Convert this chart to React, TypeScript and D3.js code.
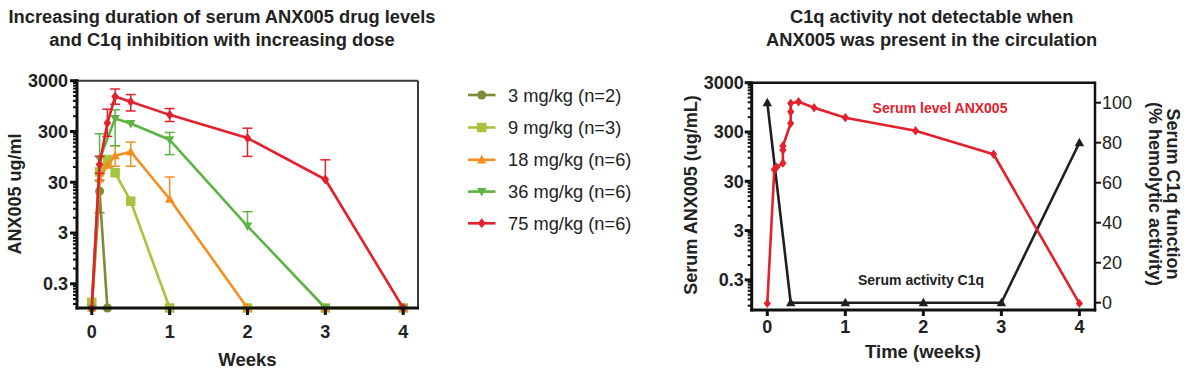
import React from "react";
import * as d3 from "d3";

const FONT = "'Liberation Sans', Arial, Helvetica, sans-serif";

// ---------- shared ticks ----------
const weekTicks = [0, 1, 2, 3, 4];
const logTicks = [0.3, 3, 30, 300, 3000];
const logTickLabels = ["0.3", "3", "30", "300", "3000"];
const logMinorBases = [0.03, 0.3, 3, 30, 300];
const pctTicks = [0, 20, 40, 60, 80, 100];

// ---------- left chart data ----------
const doseNames = ["3 mg/kg (n=2)", "9 mg/kg (n=3)", "18 mg/kg (n=6)", "36 mg/kg (n=6)", "75 mg/kg (n=6)"];
const doseColors = ["#7f8b35", "#a8c43c", "#f68e1f", "#5cb446", "#e3202b"];
const doseShapes = ["circle", "square", "triangle", "triangleDown", "diamond"];

const dose3Times = [0, 0.1, 0.2];
const dose3Values = [0.1, 20, 0.1];
const dose3Hi = [null, 33, null];
const dose3Lo = [null, 7.5, null];

const dose9Times = [0, 0.1, 0.2, 0.3, 0.5, 1, 2, 3, 4];
const dose9Values = [0.13, 48, 84, 46, 12.7, 0.1, 0.1, 0.1, 0.1];
const dose9Hi = [null, null, null, null, null, null, null, null, null];
const dose9Lo = [null, null, null, null, null, null, null, null, null];

const dose18Times = [0, 0.1, 0.2, 0.3, 0.5, 1, 2, 3, 4];
const dose18Values = [0.1, 35, 65, 100, 120, 14, 0.1, 0.1, 0.1];
const dose18Hi = [null, null, null, 157, 185, 38, null, null, null];
const dose18Lo = [null, null, null, 62, 62, null, null, null, null];

const dose36Times = [0, 0.1, 0.3, 0.5, 1, 2, 3, 4];
const dose36Values = [0.1, 86, 540, 430, 206, 4.1, 0.1, 0.1];
const dose36Hi = [null, 270, 800, null, 287, 7.9, null, null];
const dose36Lo = [null, null, 157, null, 105, null, null, null];

const dose75Times = [0, 0.1, 0.2, 0.3, 0.5, 1, 2, 3, 4];
const dose75Values = [0.1, 67, 440, 1460, 1160, 637, 222, 34, 0.1];
const dose75Hi = [null, 97, 824, 2060, 1600, 847, 348, 83, null];
const dose75Lo = [null, 45, 240, 1033, 760, 471, 97, null, null];

const doseTimes = [dose3Times, dose9Times, dose18Times, dose36Times, dose75Times];
const doseValues = [dose3Values, dose9Values, dose18Values, dose36Values, dose75Values];
const doseHi = [dose3Hi, dose9Hi, dose18Hi, dose36Hi, dose75Hi];
const doseLo = [dose3Lo, dose9Lo, dose18Lo, dose36Lo, dose75Lo];

// ---------- right chart data ----------
const serumTimes = [0, 0.09, 0.12, 0.2, 0.2, 0.2, 0.3, 0.3, 0.3, 0.4, 0.6, 1, 1.9, 2.9, 4];
const serumValues = [0.1, 52, 58, 70, 129, 156, 450, 774, 1146, 1235, 933, 585, 318, 106, 0.1];
const c1qTimes = [0, 0.3, 1, 2, 3, 4];
const c1qValues = [100, 0, 0, 0, 0, 80];

function markerPath(shape: string, s: number): string {
  const h = s / 2;
  switch (shape) {
    case "circle":
      return `M${-h},0A${h},${h} 0 1,0 ${h},0A${h},${h} 0 1,0 ${-h},0Z`;
    case "square":
      return `M${-h},${-h}H${h}V${h}H${-h}Z`;
    case "triangle":
      return `M0,${-h * 1.1}L${h * 1.05},${h * 0.8}L${-h * 1.05},${h * 0.8}Z`;
    case "triangleDown":
      return `M0,${h * 1.1}L${h * 1.05},${-h * 0.8}L${-h * 1.05},${-h * 0.8}Z`;
    case "diamond":
      return `M0,${-h * 1.1}L${h * 0.85},0L0,${h * 1.1}L${-h * 0.85},0Z`;
  }
  return "";
}

function minorTicks(lo: number, hi: number): number[] {
  const out: number[] = [];
  logMinorBases.forEach((b) => {
    for (let m = 2; m <= 9; m++) {
      const v = b * m;
      if (v >= lo && v <= hi) out.push(v);
    }
  });
  return out;
}

export default function App() {
  // left chart geometry
  const L = { x0: 77, x1: 418, y0: 80.7, y1: 308 };
  const lx = d3.scaleLinear().domain([-0.19, 4.19]).range([L.x0, L.x1]);
  const ly = d3.scaleLog().domain([0.1, 3000]).range([L.y1, L.y0]);

  // right chart geometry
  const R = { x0: 751.7, x1: 1095, y0: 82.7, y1: 310 };
  const rx = d3.scaleLinear().domain([-0.2, 4.2]).range([R.x0, R.x1]);
  const ryL = d3.scaleLog().domain([0.0735, 3000]).range([R.y1, R.y0]);
  const ryR = d3.scaleLinear().domain([-3.65, 110]).range([R.y1, R.y0]);

  const boldTxt = { fontFamily: FONT, fontWeight: 700, fill: "#222" } as const;
  const regTxt = { fontFamily: FONT, fontWeight: 400, fill: "#222" } as const;

  const leftLine = d3
    .line<[number, number]>()
    .x((d) => lx(d[0]))
    .y((d) => ly(d[1]));
  const serumLine = d3
    .line<[number, number]>()
    .x((d) => rx(d[0]))
    .y((d) => ryL(d[1]));
  const c1qLine = d3
    .line<[number, number]>()
    .x((d) => rx(d[0]))
    .y((d) => ryR(d[1]));

  const legendRows = [95, 127.5, 159.8, 191.6, 223.3];

  return (
    <svg width={1194} height={375} style={{ display: "block", position: "absolute", left: 0, top: 0 }}>
      <rect x={0} y={0} width={1194} height={375} fill="#fff" />

      {/* ===== Titles ===== */}
      <text x={222} y={22.5} textAnchor="middle" fontSize={18.3} {...boldTxt}>
        Increasing duration of serum ANX005 drug levels
      </text>
      <text x={222} y={45.5} textAnchor="middle" fontSize={18.3} {...boldTxt}>
        and C1q inhibition with increasing dose
      </text>
      <text x={931.7} y={22.5} textAnchor="middle" fontSize={18.3} {...boldTxt}>
        C1q activity not detectable when
      </text>
      <text x={931.7} y={45.5} textAnchor="middle" fontSize={18.3} {...boldTxt}>
        ANX005 was present in the circulation
      </text>

      {/* ===== Left chart ===== */}
      <g>
        {/* frame top/right */}
        <line x1={L.x0} x2={L.x1} y1={L.y0} y2={L.y0} stroke="#3a3a3a" strokeWidth={2} />
        <line x1={L.x1} x2={L.x1} y1={L.y0} y2={L.y1} stroke="#3a3a3a" strokeWidth={2} />

        {/* series */}
        {doseNames.map((name, si) => {
          const pts = doseTimes[si].map((t, i) => [t, doseValues[si][i]] as [number, number]);
          const col = doseColors[si];
          return (
            <g key={name}>
              <path d={leftLine(pts) || ""} fill="none" stroke={col} strokeWidth={2.6} strokeLinejoin="round" />
              {doseTimes[si].map((t, i) => {
                const hi = doseHi[si][i];
                const lo = doseLo[si][i];
                if (hi == null && lo == null) return null;
                const v = doseValues[si][i];
                const X = lx(t);
                const yTop = ly(hi == null ? v : hi);
                const yBot = ly(lo == null ? v : lo);
                return (
                  <g key={"e" + i} stroke={col} strokeWidth={1.5}>
                    <line x1={X} x2={X} y1={yTop} y2={yBot} />
                    {hi != null && <line x1={X - 5} x2={X + 5} y1={yTop} y2={yTop} />}
                    {lo != null && <line x1={X - 5} x2={X + 5} y1={yBot} y2={yBot} />}
                  </g>
                );
              })}
              {pts.map((p, i) => (
                <path
                  key={"m" + i}
                  d={markerPath(doseShapes[si], doseShapes[si] === "square" ? 9.5 : 9)}
                  transform={`translate(${lx(p[0])},${ly(p[1])})`}
                  fill={col}
                />
              ))}
            </g>
          );
        })}

        {/* left axis */}
        <line x1={L.x0} x2={L.x0} y1={L.y0 - 1.5} y2={L.y1 + 1.5} stroke="#111" strokeWidth={3} />
        {logTicks.map((v, i) => (
          <g key={v}>
            <line x1={L.x0 - 7} x2={L.x0} y1={ly(v)} y2={ly(v)} stroke="#111" strokeWidth={3} />
            <text x={L.x0 - 9} y={ly(v) + 6.3} textAnchor="end" fontSize={18} {...boldTxt}>
              {logTickLabels[i]}
            </text>
          </g>
        ))}
        {minorTicks(0.1, 3000).map((v) => (
          <line key={v} x1={L.x0 - 4} x2={L.x0} y1={ly(v)} y2={ly(v)} stroke="#111" strokeWidth={2} />
        ))}
        {/* bottom axis */}
        <line x1={L.x0 - 1.5} x2={L.x1 + 1} y1={L.y1} y2={L.y1} stroke="#111" strokeWidth={3} />
        {weekTicks.map((w) => (
          <g key={w}>
            <line x1={lx(w)} x2={lx(w)} y1={L.y1} y2={L.y1 + 7} stroke="#111" strokeWidth={3} />
            <text x={lx(w)} y={338} textAnchor="middle" fontSize={18} {...boldTxt}>
              {w}
            </text>
          </g>
        ))}
        <text x={247.5} y={366} textAnchor="middle" fontSize={18.5} {...boldTxt}>
          Weeks
        </text>
        <text
          transform={`translate(21,194) rotate(-90)`}
          textAnchor="middle"
          fontSize={18}
          {...boldTxt}
        >
          ANX005 ug/ml
        </text>
      </g>

      {/* ===== Legend ===== */}
      {doseNames.map((name, i) => (
        <g key={name}>
          <line x1={468} x2={495.5} y1={legendRows[i]} y2={legendRows[i]} stroke={doseColors[i]} strokeWidth={2.6} />
          <path
            d={markerPath(doseShapes[i], doseShapes[i] === "square" ? 9.5 : 9)}
            transform={`translate(481.7,${legendRows[i]})`}
            fill={doseColors[i]}
          />
          <text x={508} y={legendRows[i] + 6.5} fontSize={18.3} {...regTxt}>
            {name}
          </text>
        </g>
      ))}

      {/* ===== Right chart ===== */}
      <g>
        <line x1={R.x0} x2={R.x1} y1={R.y0} y2={R.y0} stroke="#111" strokeWidth={2.5} />

        {/* C1q activity (right axis) */}
        <path
          d={c1qLine(c1qTimes.map((t, i) => [t, c1qValues[i]] as [number, number])) || ""}
          fill="none"
          stroke="#1f1f1f"
          strokeWidth={2.6}
        />
        {/* Serum level (left axis) */}
        <path
          d={serumLine(serumTimes.map((t, i) => [t, serumValues[i]] as [number, number])) || ""}
          fill="none"
          stroke="#e3202b"
          strokeWidth={2.6}
          strokeLinejoin="round"
        />
        {serumTimes.map((t, i) => (
          <path
            key={"s" + i}
            d={markerPath("diamond", 8.5)}
            transform={`translate(${rx(t)},${ryL(serumValues[i])})`}
            fill="#e3202b"
          />
        ))}
        {c1qTimes.map((t, i) => (
          <path
            key={"c" + i}
            d={markerPath("triangle", 9)}
            transform={`translate(${rx(t)},${ryR(c1qValues[i])})`}
            fill="#1f1f1f"
          />
        ))}

        {/* annotations */}
        <text x={940} y={112.5} textAnchor="middle" fontSize={14} fontFamily={FONT} fontWeight={700} fill="#e3202b">
          Serum level ANX005
        </text>
        <text x={921} y={285} textAnchor="middle" fontSize={14} {...boldTxt}>
          Serum activity C1q
        </text>

        {/* left log axis */}
        <line x1={R.x0} x2={R.x0} y1={R.y0 - 1.2} y2={R.y1 + 1.5} stroke="#111" strokeWidth={3} />
        {logTicks.map((v, i) => (
          <g key={v}>
            <line x1={R.x0 - 7} x2={R.x0} y1={ryL(v)} y2={ryL(v)} stroke="#111" strokeWidth={3} />
            <text x={R.x0 - 8} y={ryL(v) + 6.3} textAnchor="end" fontSize={18} {...boldTxt}>
              {logTickLabels[i]}
            </text>
          </g>
        ))}
        {minorTicks(0.0735, 3000).map((v) => (
          <line key={v} x1={R.x0 - 4} x2={R.x0} y1={ryL(v)} y2={ryL(v)} stroke="#111" strokeWidth={2} />
        ))}

        {/* right linear axis */}
        <line x1={R.x1} x2={R.x1} y1={R.y0 - 1.2} y2={R.y1 + 1.5} stroke="#111" strokeWidth={2.5} />
        {pctTicks.map((v) => (
          <g key={v}>
            <line x1={R.x1} x2={R.x1 + 6} y1={ryR(v)} y2={ryR(v)} stroke="#111" strokeWidth={2} />
            <text x={R.x1 + 7} y={ryR(v) + 6.3} fontSize={18} {...regTxt}>
              {v}
            </text>
          </g>
        ))}

        {/* bottom axis */}
        <line x1={R.x0 - 1.5} x2={R.x1 + 1.2} y1={R.y1} y2={R.y1} stroke="#111" strokeWidth={3} />
        {weekTicks.map((w) => (
          <g key={w}>
            <line x1={rx(w)} x2={rx(w)} y1={R.y1} y2={R.y1 + 6} stroke="#111" strokeWidth={3} />
            <text x={rx(w)} y={333} textAnchor="middle" fontSize={18} {...boldTxt}>
              {w}
            </text>
          </g>
        ))}
        <text x={923} y={358} textAnchor="middle" fontSize={18.5} {...boldTxt}>
          Time (weeks)
        </text>
        <text transform={`translate(697,195) rotate(-90)`} textAnchor="middle" fontSize={18} {...boldTxt}>
          Serum ANX005 (ug/mL)
        </text>
        <text transform={`translate(1167,194) rotate(90)`} textAnchor="middle" fontSize={18} {...boldTxt}>
          Serum C1q function
        </text>
        <text transform={`translate(1149,194) rotate(90)`} textAnchor="middle" fontSize={18} {...boldTxt}>
          (% hemolytic activity)
        </text>
      </g>
    </svg>
  );
}
